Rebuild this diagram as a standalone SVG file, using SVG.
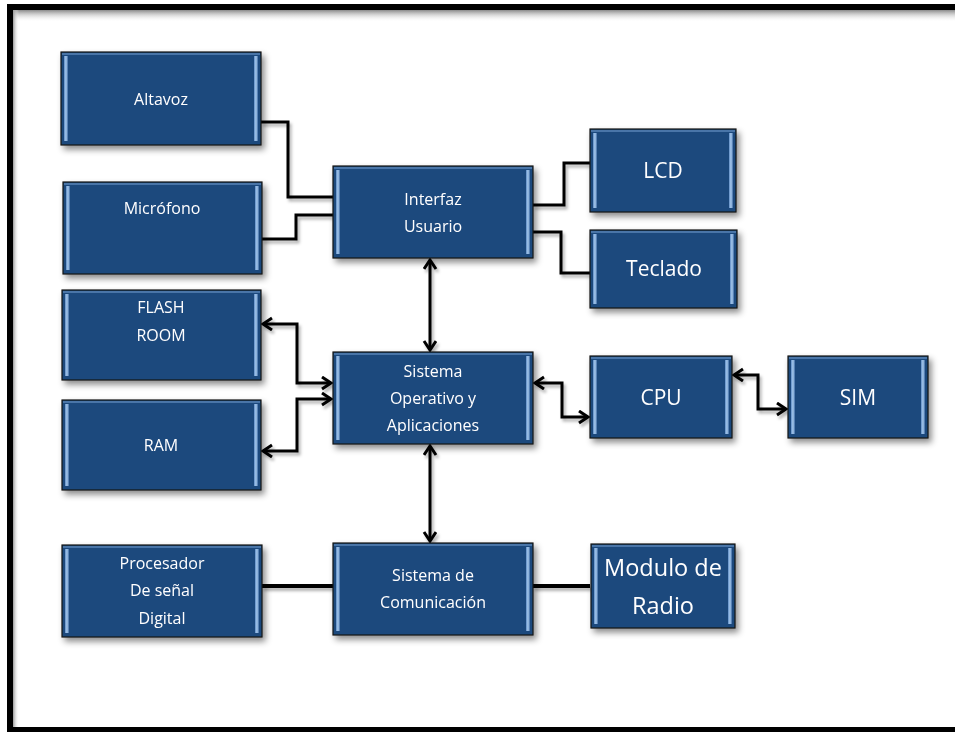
<svg xmlns="http://www.w3.org/2000/svg" width="955" height="732" viewBox="0 0 955 732">
<defs>
<style>
.box{fill:#1F497D;stroke:#141414;stroke-width:1.2}
.hl{fill:url(#hlg)}
.top{fill:#4A74A8}
.bot{fill:#163760}
.t{fill:#fff;font-family:"Open Sans","Liberation Sans",sans-serif;font-size:16px;text-anchor:middle}
.tb{fill:#fff;font-family:"Open Sans","Liberation Sans",sans-serif;font-size:21px;text-anchor:middle}
.c{fill:none;stroke:#000;stroke-width:3;stroke-linejoin:miter;stroke-linecap:butt}
.cb{stroke-width:3}
.a{marker-start:url(#arr);marker-end:url(#arr)}
</style>
<linearGradient id="hlg" x1="0" y1="0" x2="1" y2="0">
<stop offset="0" stop-color="#5F8CC4"/>
<stop offset="0.5" stop-color="#A9CBEE"/>
<stop offset="1" stop-color="#3D6AA3"/>
</linearGradient>
<linearGradient id="topsh" x1="0" y1="0" x2="0" y2="1">
<stop offset="0" stop-color="#8a8a8a"/>
<stop offset="1" stop-color="#ffffff" stop-opacity="0"/>
</linearGradient>
<linearGradient id="leftsh" x1="0" y1="0" x2="1" y2="0">
<stop offset="0" stop-color="#9a9a9a"/>
<stop offset="1" stop-color="#ffffff" stop-opacity="0"/>
</linearGradient>
<filter id="sh" x="-10%" y="-10%" width="130%" height="140%">
<feDropShadow dx="3" dy="4" stdDeviation="3" flood-color="#000" flood-opacity="0.45"/>
</filter>
<filter id="lsh" x="-10%" y="-10%" width="130%" height="140%">
<feDropShadow dx="2" dy="3" stdDeviation="1.5" flood-color="#000" flood-opacity="0.3"/>
</filter>
<marker id="arr" markerWidth="16" markerHeight="16" refX="11" refY="7" orient="auto-start-reverse" markerUnits="userSpaceOnUse">
<path d="M2,1 L11,7 L2,13" fill="none" stroke="#000" stroke-width="3"/>
</marker>
<symbol id="bevel" viewBox="0 0 10 10" preserveAspectRatio="none"></symbol>
</defs>
<rect width="955" height="732" fill="#fff"/>
<rect x="13" y="10" width="950" height="12" fill="url(#topsh)"/>
<rect x="13" y="10" width="6" height="717" fill="url(#leftsh)"/>
<rect x="10" y="7" width="962" height="723" fill="none" stroke="#000" stroke-width="6"/>

<g id="connectors" filter="url(#lsh)">
<path class="c" d="M261,122 H288 V197 H333"/>
<path class="c" d="M262,239 H296 V215 H333"/>
<path class="c" d="M533,205 H564 V163 H590"/>
<path class="c" d="M533,232 H561 V273 H590"/>
<path class="c a" d="M430,260 V350"/>
<path class="c a" d="M263,324 H297 V383 H331"/>
<path class="c a" d="M331,399 H297 V451 H263"/>
<path class="c a" d="M535,383 H562 V417 H588"/>
<path class="c a" d="M734,375 H758 V409 H786"/>
<path class="c a" d="M430,446 V541"/>
<path class="c" style="stroke-width:4" d="M262,586 H333"/>
<path class="c" style="stroke-width:4" d="M533,586 H590"/>
</g>

<g id="altavoz" filter="url(#sh)">
<rect class="box" x="61" y="52" width="200" height="93"/>
<rect class="top" x="62" y="53" width="198" height="2"/>
<rect class="hl" x="64" y="56" width="4" height="85"/>
<rect class="hl" x="254" y="56" width="4" height="85"/>
<text class="t" x="161" y="105">Altavoz</text>
</g>
<g id="microfono" filter="url(#sh)">
<rect class="box" x="63" y="182" width="199" height="92"/>
<rect class="top" x="64" y="183" width="197" height="2"/>
<rect class="hl" x="66" y="186" width="4" height="84"/>
<rect class="hl" x="255" y="186" width="4" height="84"/>
<text class="t" x="162" y="214">Micrófono</text>
</g>
<g id="flash" filter="url(#sh)">
<rect class="box" x="62" y="290" width="199" height="90"/>
<rect class="top" x="63" y="291" width="197" height="2"/>
<rect class="hl" x="65" y="294" width="4" height="82"/>
<rect class="hl" x="254" y="294" width="4" height="82"/>
<text class="t" x="161" y="313">FLASH</text>
<text class="t" x="161" y="341">ROOM</text>
</g>
<g id="ram" filter="url(#sh)">
<rect class="box" x="62" y="400" width="199" height="90"/>
<rect class="top" x="63" y="401" width="197" height="2"/>
<rect class="hl" x="65" y="404" width="4" height="82"/>
<rect class="hl" x="254" y="404" width="4" height="82"/>
<text class="t" x="161" y="451">RAM</text>
</g>
<g id="procesador" filter="url(#sh)">
<rect class="box" x="62" y="545" width="200" height="92"/>
<rect class="top" x="63" y="546" width="198" height="2"/>
<rect class="hl" x="65" y="549" width="4" height="84"/>
<rect class="hl" x="255" y="549" width="4" height="84"/>
<text class="t" x="162" y="569">Procesador</text>
<text class="t" x="162" y="596">De señal</text>
<text class="t" x="162" y="624">Digital</text>
</g>
<g id="interfaz" filter="url(#sh)">
<rect class="box" x="333" y="166" width="200" height="92"/>
<rect class="top" x="334" y="167" width="198" height="2"/>
<rect class="hl" x="336" y="170" width="4" height="84"/>
<rect class="hl" x="526" y="170" width="4" height="84"/>
<text class="t" x="433" y="205">Interfaz</text>
<text class="t" x="433" y="232">Usuario</text>
</g>
<g id="sistema-operativo" filter="url(#sh)">
<rect class="box" x="333" y="352" width="200" height="92"/>
<rect class="top" x="334" y="353" width="198" height="2"/>
<rect class="hl" x="336" y="356" width="4" height="84"/>
<rect class="hl" x="526" y="356" width="4" height="84"/>
<text class="t" x="433" y="377">Sistema</text>
<text class="t" x="433" y="404">Operativo y</text>
<text class="t" x="433" y="431">Aplicaciones</text>
</g>
<g id="sistema-comunicacion" filter="url(#sh)">
<rect class="box" x="333" y="543" width="200" height="92"/>
<rect class="top" x="334" y="544" width="198" height="2"/>
<rect class="hl" x="336" y="547" width="4" height="84"/>
<rect class="hl" x="526" y="547" width="4" height="84"/>
<text class="t" x="433" y="581">Sistema de</text>
<text class="t" x="433" y="608">Comunicación</text>
</g>
<g id="lcd" filter="url(#sh)">
<rect class="box" x="590" y="129" width="146" height="83"/>
<rect class="top" x="591" y="130" width="144" height="2"/>
<rect class="hl" x="593" y="133" width="4" height="75"/>
<rect class="hl" x="729" y="133" width="4" height="75"/>
<text class="tb" x="663" y="178">LCD</text>
</g>
<g id="teclado" filter="url(#sh)">
<rect class="box" x="590" y="230" width="147" height="78"/>
<rect class="top" x="591" y="231" width="145" height="2"/>
<rect class="hl" x="593" y="234" width="4" height="70"/>
<rect class="hl" x="730" y="234" width="4" height="70"/>
<text class="tb" x="664" y="276">Teclado</text>
</g>
<g id="cpu" filter="url(#sh)">
<rect class="box" x="590" y="356" width="142" height="82"/>
<rect class="top" x="591" y="357" width="140" height="2"/>
<rect class="hl" x="593" y="360" width="4" height="74"/>
<rect class="hl" x="725" y="360" width="4" height="74"/>
<text class="tb" x="661" y="405">CPU</text>
</g>
<g id="sim" filter="url(#sh)">
<rect class="box" x="788" y="356" width="140" height="82"/>
<rect class="top" x="789" y="357" width="138" height="2"/>
<rect class="hl" x="791" y="360" width="4" height="74"/>
<rect class="hl" x="921" y="360" width="4" height="74"/>
<text class="tb" x="858" y="405">SIM</text>
</g>
<g id="modulo-radio" filter="url(#sh)">
<rect class="box" x="591" y="544" width="144" height="84"/>
<rect class="top" x="592" y="545" width="142" height="2"/>
<rect class="hl" x="594" y="548" width="4" height="76"/>
<rect class="hl" x="728" y="548" width="4" height="76"/>
<text class="tb" style="font-size:23.5px" x="663" y="576">Modulo de</text>
<text class="tb" style="font-size:23.5px" x="663" y="614">Radio</text>
</g>
</svg>
